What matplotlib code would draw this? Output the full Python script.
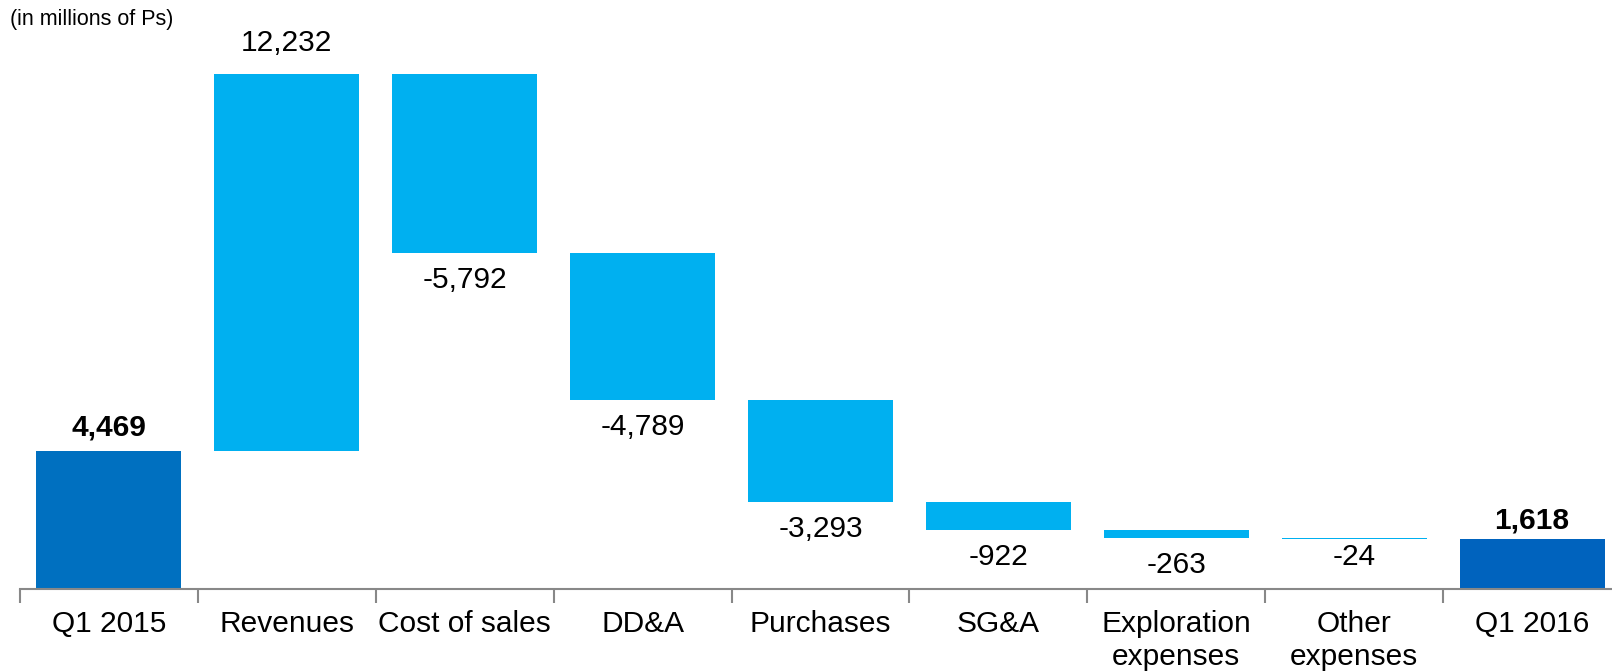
import numpy as np
import matplotlib.pyplot as plt
from matplotlib.ticker import FixedLocator

plt.rcParams['font.family'] = ['Liberation Sans', 'DejaVu Sans']

# waterfall data (millions of Ps)
categories = ['Q1 2015', 'Revenues', 'Cost of sales', 'DD&A', 'Purchases',
              'SG&A', 'Exploration\nexpenses', 'Other\nexpenses', 'Q1 2016']
start_total = 4469
changes = [12232, -5792, -4789, -3293, -922, -263, -24]
end_total = 1618

light_blue = '#00B0F0'
dark_blue_start = '#0070C0'
dark_blue_end = '#0063BE'

fig = plt.figure(figsize=(16.12, 6.71), dpi=100)
ax = fig.add_axes([20/1612, 82/671, 1601/1612, 589/671])

x = np.arange(len(categories))
width = 0.815
fs = 21.5

# running level before each step
levels = np.concatenate([[start_total], start_total + np.cumsum(changes)])

ax.bar(x[0], start_total, width, color=dark_blue_start)
ax.bar(x[-1], end_total, width, color=dark_blue_end)
for i, d in enumerate(changes):
    lo = min(levels[i], levels[i + 1])
    h = max(abs(d), 30)
    ax.bar(x[i + 1], h, width, bottom=lo, color=light_blue)

# value labels
ax.annotate(f'{start_total:,}', (x[0], start_total), xytext=(0, 10),
            textcoords='offset pixels', ha='center', va='bottom',
            fontsize=fs, fontweight='bold')
ax.annotate(f'{end_total:,}', (x[-1], end_total), xytext=(0, 5),
            textcoords='offset pixels', ha='center', va='bottom',
            fontsize=fs, fontweight='bold')
for i, d in enumerate(changes):
    if d > 0:
        ax.annotate(f'{d:,}', (x[i + 1], levels[i + 1]), xytext=(0, 17),
                    textcoords='offset pixels', ha='center', va='bottom',
                    fontsize=fs)
    else:
        off = -4 if abs(d) < 100 else -13
        ax.annotate(f'{d:,}', (x[i + 1], levels[i + 1]), xytext=(0, off),
                    textcoords='offset pixels', ha='center', va='top',
                    fontsize=fs)

ax.set_xlim(-0.5, len(categories) - 0.5)
ax.set_ylim(0, 19100)

for s in ['top', 'right', 'left']:
    ax.spines[s].set_visible(False)
ax.spines['bottom'].set_color('#888888')
ax.spines['bottom'].set_linewidth(1.5)
ax.set_yticks([])

ax.set_xticks(x)
ax.set_xticklabels(categories, fontsize=fs, linespacing=1.22)
ax.tick_params(axis='x', which='major', length=0, pad=15)
ax.xaxis.set_minor_locator(FixedLocator(np.arange(-0.5, len(categories), 1.0)))
ax.tick_params(axis='x', which='minor', length=10, width=1.5, color='#888888',
               direction='out')

fig.text(10/1612, 1 - 20/671, '(in millions of Ps)', fontsize=15.5,
         ha='left', va='center')

fig.savefig('out.png', dpi=100)
